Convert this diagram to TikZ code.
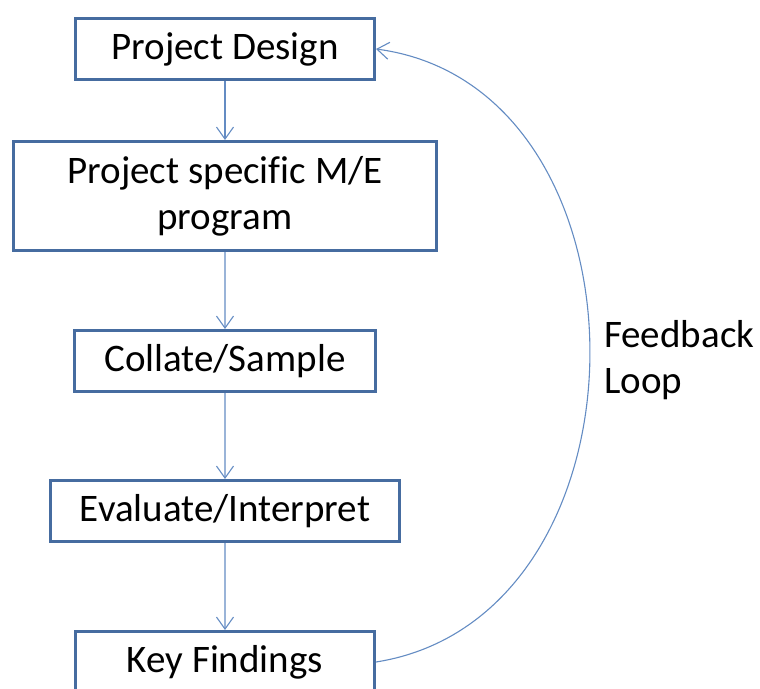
\documentclass[tikz,border=0pt]{standalone}
\usepackage{fontspec}
\setmainfont{Carlito}[Ligatures=CommonOff]
\usepackage{tikz}
\usetikzlibrary{arrows.meta}
\usetikzlibrary{trees}
\definecolor{boxblue}{RGB}{70,108,160}
\definecolor{lineblue}{RGB}{100,140,195}

\begin{document}
\begin{tikzpicture}[x=1pt, y=-1pt,
		font=\fontsize{39}{46}\selectfont,
		stage/.style={draw=boxblue, line width=3pt, rectangle, minimum height=61pt, inner sep=2pt, align=center},
		edge from parent/.style={draw=lineblue, line width=1.1pt, -{Straight Barb[length=12pt,width=17pt]}},
		level 1/.style={level distance=147pt},
		level 2/.style={level distance=165pt},
		level 3/.style={level distance=150pt},
		level 4/.style={level distance=151pt}]
		\useasboundingbox (0,0) rectangle (760,688);
		\node[stage, minimum width=299pt] (pd) at (225,49) {Project Design}
		child {node[stage, minimum width=423pt, minimum height=109pt] (ps) {Project specific M/E\\program}
			child {node[stage, minimum width=301pt] (cs) {Collate/Sample}
				child {node[stage, minimum width=349pt] (ei) {Evaluate/Interpret}
					child {node[stage, minimum width=299pt] (kf) {Key Findings}}
				}
			}
		};

		\draw[lineblue, line width=1.1pt, -{Straight Barb[length=12pt,width=17pt]}] (kf.east) .. controls +(285,-45) and +(285,38) .. (pd.east);
		\node[anchor=west, align=left, inner sep=0pt] (fb) at (604,360) {Feedback\\Loop};

		\end{tikzpicture}
\end{document}
